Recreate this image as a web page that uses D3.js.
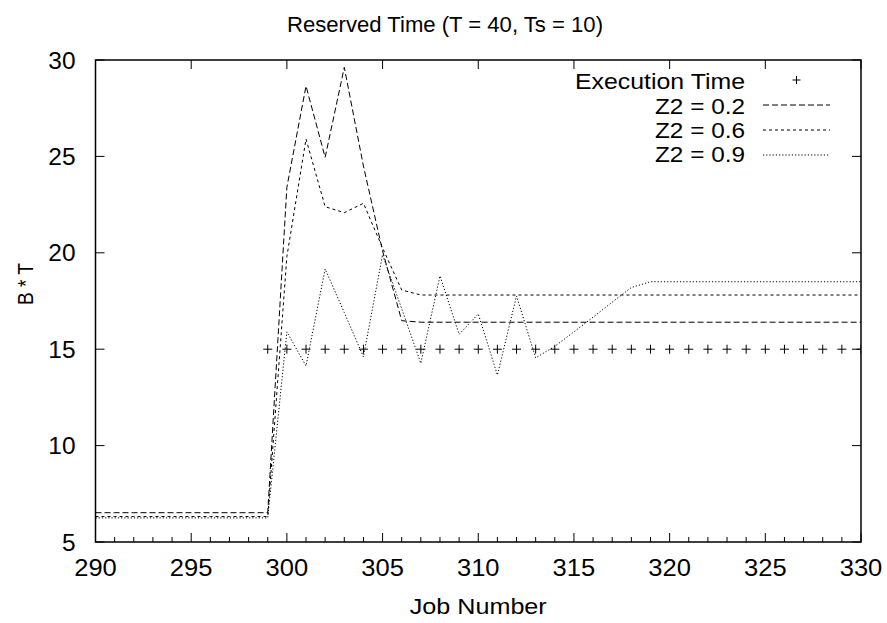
<!DOCTYPE html>
<html>
<head>
<meta charset="utf-8">
<script src="https://cdn.jsdelivr.net/npm/d3@7"></script>
<style>
  body { margin: 0; background: #fff; }
  svg { display: block; }
  text { font-family: "Liberation Sans", Arial, sans-serif; fill: #000; }
</style>
</head>
<body>
<svg id="chart" width="887" height="623"></svg>
<script>
// ---- data ----
const jobs = [290,291,292,293,294,295,296,297,298,299,300,301,302,303,304,305,306,307,308,309,310,
              311,312,313,314,315,316,317,318,319,320,321,322,323,324,325,326,327,328,329,330];
const z02 = [6.52,6.52,6.52,6.52,6.52,6.52,6.52,6.52,6.52,6.52,
             23.4,28.65,24.95,29.62,24.5,20.1,16.48,
             16.4,16.4,16.4,16.4,16.4,16.4,16.4,16.4,16.4,16.4,16.4,16.4,16.4,16.4,16.4,16.4,16.4,16.4,16.4,16.4,16.4,16.4,16.4,16.4];
const z06 = [6.32,6.32,6.32,6.32,6.32,6.32,6.32,6.32,6.32,6.32,
             19.8,25.9,22.39,22.08,22.57,20.25,18.07,
             17.81,17.81,17.81,17.81,17.81,17.81,17.81,17.81,17.81,17.81,17.81,17.81,17.81,17.81,17.81,17.81,17.81,17.81,17.81,17.81,17.81,17.81,17.81,17.81];
const z09 = [6.25,6.25,6.25,6.25,6.25,6.25,6.25,6.25,6.25,6.25,
             15.9,14.13,19.16,16.9,14.6,19.9,17.1,14.27,18.8,15.77,16.83,13.66,17.76,14.55,15.15,15.9,16.66,17.44,18.2,18.5,
             18.5,18.5,18.5,18.5,18.5,18.5,18.5,18.5,18.5,18.5,18.5];
const execJobs = [299,300,301,302,303,304,305,306,307,308,309,310,311,312,313,314,315,316,317,318,319,320,
                  321,322,323,324,325,326,327,328,329,330];
const execValues = [15,15,15,15,15,15,15,15,15,15,15,15,15,15,15,15,15,15,15,15,15,15,15,15,15,15,15,15,15,15,15,15];
const xTicks = [290,295,300,305,310,315,320,325,330];
const yTicks = [5,10,15,20,25,30];
const seriesNames = ["Z2 = 0.2","Z2 = 0.6","Z2 = 0.9"];
const execName = "Execution Time";
const title = "Reserved Time (T = 40, Ts = 10)";
const xLabel = "Job Number";
const yLabel = "B * T";

// ---- layout ----
const svg = d3.select("#chart");
const L = 95.5, R = 861, T = 60, B = 542;
const x = d3.scaleLinear().domain([290,330]).range([L,R]);
const y = d3.scaleLinear().domain([5,30]).range([B,T]);
const FS = 22;

function txt(sel, s, size, w) {
  const t = sel.append("text").style("font-size", size + "px").text(s);
  if (w) t.attr("textLength", w).attr("lengthAdjust", "spacingAndGlyphs");
  return t;
}

// ticks (inward, gnuplot style)
const gAx = svg.append("g").attr("stroke","#000").attr("stroke-width",1);
const minor = d3.range(290,331).filter(v => v % 5 !== 0);
xTicks.forEach(v => {
  gAx.append("line").attr("x1",x(v)).attr("x2",x(v)).attr("y1",B).attr("y2",B-9);
  gAx.append("line").attr("x1",x(v)).attr("x2",x(v)).attr("y1",T).attr("y2",T+9);
});
minor.forEach(v => {
  gAx.append("line").attr("x1",x(v)).attr("x2",x(v)).attr("y1",B).attr("y2",B-5);
});
yTicks.forEach(v => {
  gAx.append("line").attr("x1",L).attr("x2",L+9).attr("y1",y(v)).attr("y2",y(v));
  gAx.append("line").attr("x1",R).attr("x2",R-9).attr("y1",y(v)).attr("y2",y(v));
});

// tick labels
const gxl = svg.append("g");
xTicks.forEach(v => {
  txt(gxl, String(v), 23.5, String(v).length * 14.2)
    .attr("x", x(v)).attr("y", B + 34).attr("text-anchor","middle");
});
const gyl = svg.append("g");
yTicks.forEach(v => {
  txt(gyl, String(v), 23.5, String(v).length * 13.6)
    .attr("x", L - 20).attr("y", y(v) + 8.5).attr("text-anchor","end");
});

// clip
svg.append("clipPath").attr("id","clip").append("rect")
  .attr("x",L).attr("y",T).attr("width",R-L).attr("height",B-T);

const line = d3.line().x(d => x(d[0])).y(d => y(d[1]));
const dashes = ["6,3","3,3","1.2,2"];
const allSeries = [z02, z06, z09];
const gPlot = svg.append("g").attr("clip-path","url(#clip)");
allSeries.forEach((s,i) => {
  gPlot.append("path")
    .datum(jobs.map((j,k) => [j, s[k]]))
    .attr("d", line)
    .attr("fill","none").attr("stroke","#000").attr("stroke-width",1)
    .attr("stroke-dasharray", dashes[i]);
});
const P = 4.5;
const gPts = gPlot.append("g").attr("stroke","#000").attr("stroke-width",1);
execJobs.forEach((j,k) => {
  const px = x(j), py = y(execValues[k]);
  gPts.append("line").attr("x1",px-P).attr("x2",px+P).attr("y1",py).attr("y2",py);
  gPts.append("line").attr("x1",px).attr("x2",px).attr("y1",py-P).attr("y2",py+P);
});

// frame
svg.append("rect").attr("x",L).attr("y",T).attr("width",R-L).attr("height",B-T)
  .attr("fill","none").attr("stroke","#000").attr("stroke-width",1.5);

// legend
const legX = 745, legS1 = 763, legS2 = 830;
const sampleY = [80, 105, 130, 155];
const textY = [89.3, 113.8, 137.6, 161.5];
txt(svg, execName, FS, 170).attr("x",legX).attr("y",textY[0]).attr("text-anchor","end");
{
  const cx = (legS1+legS2)/2, cy = sampleY[0];
  svg.append("line").attr("x1",cx-4).attr("x2",cx+4).attr("y1",cy).attr("y2",cy).attr("stroke","#000");
  svg.append("line").attr("x1",cx).attr("x2",cx).attr("y1",cy-4).attr("y2",cy+4).attr("stroke","#000");
}
seriesNames.forEach((n,i) => {
  txt(svg, n, FS, 90).attr("x",legX).attr("y",textY[i+1]).attr("text-anchor","end");
  svg.append("line").attr("x1",legS1).attr("x2",legS2).attr("y1",sampleY[i+1]).attr("y2",sampleY[i+1])
    .attr("stroke","#000").attr("stroke-width",1).attr("stroke-dasharray",dashes[i]);
});

// title & axis labels
txt(svg, title, FS, 316).attr("x",445).attr("y",32).attr("text-anchor","middle");
txt(svg, xLabel, FS, 137).attr("x",(L+R)/2).attr("y",614).attr("text-anchor","middle");
txt(svg, yLabel, FS, 42).attr("transform",`translate(33,284) rotate(-90)`)
  .attr("text-anchor","middle");
</script>
</body>
</html>
